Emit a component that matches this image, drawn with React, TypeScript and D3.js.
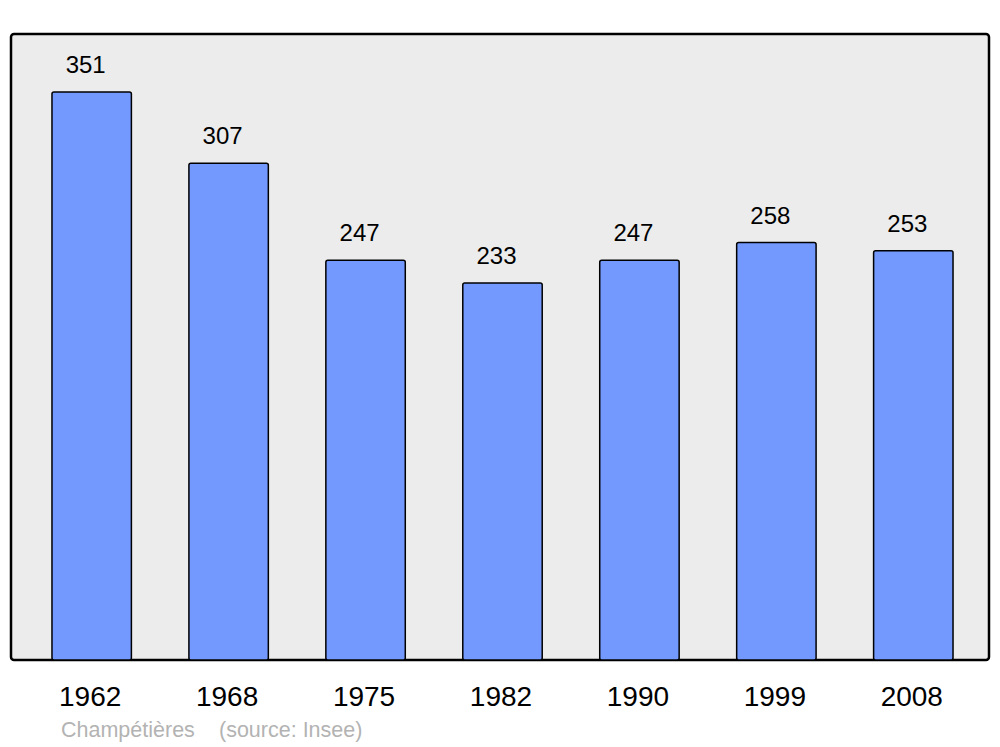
import React from "react";
import * as d3 from "d3";

const years = ["1962", "1968", "1975", "1982", "1990", "1999", "2008"];
const population = [351, 307, 247, 233, 247, 258, 253];
const townName = "Champétières";
const sourceText = "(source: Insee)";

const W = 1000;
const H = 747;
const panel = { left: 11, top: 34, right: 989, bottom: 660 };

export default function App() {
  const x = d3
    .scaleBand<string>()
    .domain(years)
    .range([panel.left + 4, panel.right + 1])
    .paddingInner(0.42)
    .paddingOuter(0.27);
  const y = d3
    .scaleLinear()
    .domain([0, 386.9])
    .range([panel.bottom, panel.top]);

  return (
    <svg
      width={W}
      height={H}
      style={{ position: "absolute", left: 0, top: 0, fontFamily: "'Liberation Sans', Arial, sans-serif" }}
    >
      <rect x={0} y={0} width={W} height={H} fill="#ffffff" />
      <rect
        x={panel.left}
        y={panel.top}
        width={panel.right - panel.left}
        height={panel.bottom - panel.top}
        rx={3}
        fill="#ececec"
        stroke="#000"
        strokeWidth={2.5}
      />
      {years.map((yr, i) => {
        const bx = x(yr) as number;
        const bw = x.bandwidth();
        const top = y(population[i]);
        return (
          <g key={yr}>
            <rect
              x={bx}
              y={top}
              width={bw}
              height={panel.bottom - top}
              rx={2}
              fill="#7399ff"
              stroke="#000"
              strokeWidth={1.5}
            />
            <text x={bx + bw / 2 - 6} y={top - 19} fontSize={24} textAnchor="middle" fill="#000">
              {population[i]}
            </text>
            <text x={bx + bw / 2 - 1.5} y={706} fontSize={28} textAnchor="middle" fill="#000">
              {yr}
            </text>
          </g>
        );
      })}
      <text x={61} y={737} fontSize={21.5} fill="#b3b3b3">
        {townName}
      </text>
      <text x={219} y={737} fontSize={21.5} fill="#b3b3b3">
        {sourceText}
      </text>
    </svg>
  );
}
